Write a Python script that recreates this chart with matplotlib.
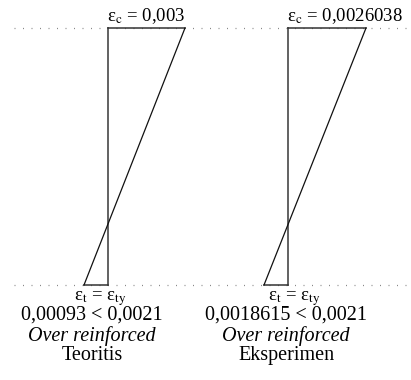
import numpy as np
import matplotlib
matplotlib.use("Agg")
import matplotlib.pyplot as plt

plt.rcParams['font.family'] = ['Liberation Serif', 'DejaVu Serif']
plt.rcParams['mathtext.fontset'] = 'stix'

# strain diagrams (pixel-ish units, y grows downward)
section_x = [108, 288]          # vertical line of each diagram
comp_width = [77, 78]           # compression width at top
tens_width = [24, 24]           # tension width at bottom
y_top, y_bot = 28, 285

top_labels = [u'\u03b5$_\\mathrm{c}$ = 0,003', u'\u03b5$_\\mathrm{c}$ = 0,0026038']
bot_eps = u'\u03b5$_\\mathrm{t}$ = \u03b5$_\\mathrm{ty}$'
bot_vals = ['0,00093 < 0,0021', '0,0018615 < 0,0021']
bot_status = ['Over reinforced', 'Over reinforced']
bot_names = ['Teoritis', 'Eksperimen']
bot_center = [92, 286]

fig = plt.figure(figsize=(4.11, 3.8), dpi=100)
ax = fig.add_axes([0, 0, 1, 1])
ax.set_xlim(0, 411)
ax.set_ylim(380, 0)
ax.axis('off')

# dotted guide lines
for yy in [y_top, y_bot]:
    ax.plot([14, 411], [yy, yy], color='#888888', lw=0.9, ls=(0, (0.8, 6)))

for i in range(2):
    x0 = section_x[i]
    xr = x0 + comp_width[i]
    xl = x0 - tens_width[i]
    # vertical section line
    ax.plot([x0, x0], [y_top, y_bot], color='#555555', lw=1.3)
    # top and bottom edges
    ax.plot([x0, xr], [y_top, y_top], color='#333333', lw=1.1)
    ax.plot([xl, x0], [y_bot, y_bot], color='#333333', lw=1.1)
    # strain line
    ax.plot([xr, xl], [y_top, y_bot], color='#111111', lw=0.9)

    ax.text(x0 - 1, 21, top_labels[i], fontsize=13.5, ha='left', va='baseline')
    c = bot_center[i]
    ax.text(c + 8, 300, bot_eps, fontsize=13.5, ha='center', va='baseline')
    ax.text(c, 320, bot_vals[i], fontsize=14.5, ha='center', va='baseline')
    ax.text(c, 341, bot_status[i], fontsize=14.5, ha='center', va='baseline', style='italic')
    ax.text(c, 360, bot_names[i], fontsize=14.5, ha='center', va='baseline')

plt.savefig('out.png', dpi=100)
plt.close('all')
